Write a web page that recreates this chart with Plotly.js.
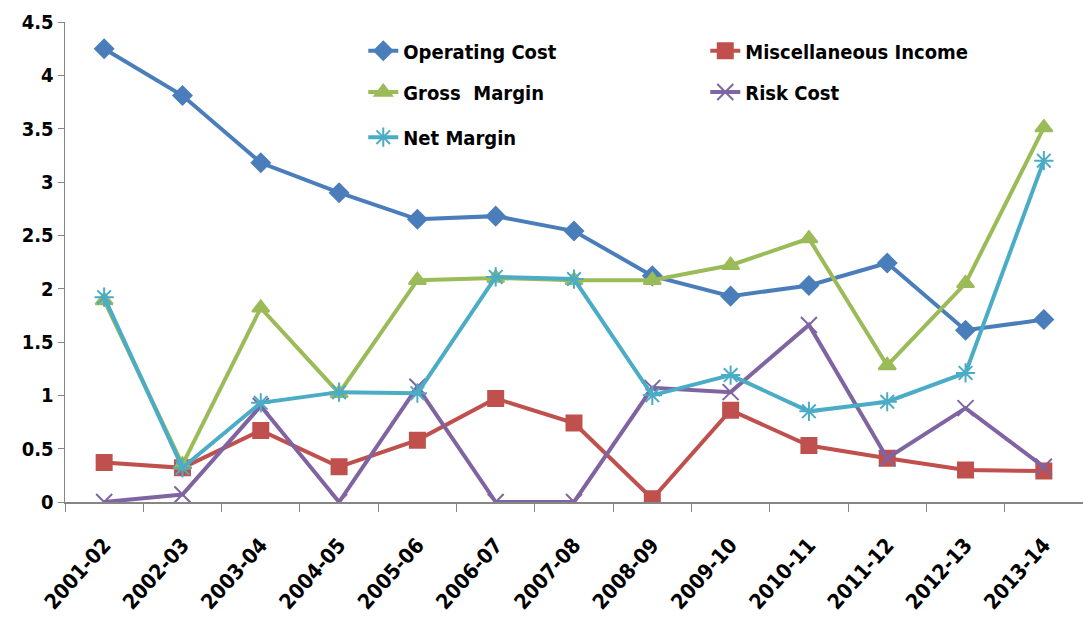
<!DOCTYPE html>
<html>
<head>
<meta charset="utf-8">
<script src="https://cdn.plot.ly/plotly-3.0.1.min.js"></script>
<style>html,body{margin:0;padding:0;background:#fff;}#chart{width:1083px;height:622px;}</style>
</head>
<body>
<div id="chart"></div>
<script>
const categories = ["2001-02","2002-03","2003-04","2004-05","2005-06","2006-07","2007-08","2008-09","2009-10","2010-11","2011-12","2012-13","2013-14"];
const operatingCost = [4.25,3.81,3.18,2.90,2.65,2.68,2.54,2.12,1.93,2.03,2.24,1.61,1.71];
const miscIncome    = [0.37,0.32,0.67,0.33,0.58,0.97,0.74,0.03,0.86,0.53,0.41,0.30,0.29];
const grossMargin   = [1.89,0.35,1.82,1.02,2.08,2.10,2.08,2.08,2.22,2.47,1.28,2.05,3.51];
const riskCost      = [0.00,0.07,0.90,0.00,1.08,0.00,0.00,1.07,1.03,1.66,0.41,0.88,0.33];
const netMargin     = [1.92,0.32,0.93,1.03,1.02,2.11,2.09,1.00,1.19,0.85,0.94,1.21,3.20];
const yTicks = [0,0.5,1,1.5,2,2.5,3,3.5,4,4.5];

const FONT = "'Liberation Sans Narrow','DejaVu Sans Condensed','Arial Narrow',sans-serif";

function tr(name, y, color, symbol, size, legend) {
  return {
    type: 'scatter', mode: 'lines+markers', name: name, x: categories, y: y,
    legend: legend,
    line: {color: color, width: 4},
    marker: {symbol: symbol, size: size, color: color, line: {color: color, width: 2}}
  };
}

const data = [
  tr('Operating Cost', operatingCost, '#4a7ebb', 'diamond', 14, 'legend'),
  tr('Miscellaneous Income', miscIncome, '#c0504d', 'square', 15, 'legend'),
  tr('Gross  Margin', grossMargin, '#9bbb59', 'triangle-up', 15, 'legend2'),
  tr('Risk Cost', riskCost, '#8064a2', 'x-thin-open', 16, 'legend2'),
  tr('Net Margin', netMargin, '#4bacc6', 'asterisk-open', 16, 'legend3')
];

const legFont = {family: FONT, size: 20, color: '#000', weight: 'bold'};
function leg(y) {
  return {orientation: 'h', x: 0.293, y: y, xanchor: 'left', yanchor: 'middle',
    entrywidth: 297, entrywidthmode: 'pixels', font: legFont, bgcolor: 'rgba(0,0,0,0)',
    traceorder: 'normal', itemclick: false};
}

const layout = {
  width: 1083, height: 622,
  margin: {l: 65, r: 0, t: 22, b: 120},
  paper_bgcolor: '#fff', plot_bgcolor: '#fff',
  showlegend: true,
  legend: leg(0.94),
  legend2: leg(0.854),
  legend3: leg(0.76),
  xaxis: {
    type: 'category', range: [-0.5, 12.5], tickangle: -48,
    showline: true, linecolor: '#868686', linewidth: 1.5,
    ticks: 'outside', tickson: 'boundaries', ticklen: 8, tickcolor: '#868686',
    ticklabelstandoff: 21,
    showgrid: false, zeroline: false,
    tickfont: {family: FONT, size: 21, color: '#000', weight: 'bold'}
  },
  yaxis: {
    range: [0, 4.5], tickvals: yTicks, ticktext: yTicks.map(String),
    showline: true, linecolor: '#868686', linewidth: 1.5,
    ticks: 'outside', ticklen: 6, tickcolor: '#868686',
    showgrid: false, zeroline: false,
    tickfont: {family: FONT, size: 20, color: '#000', weight: 'bold'}
  }
};

Plotly.newPlot('chart', data, layout, {displayModeBar: false, staticPlot: true});
</script>
</body>
</html>
